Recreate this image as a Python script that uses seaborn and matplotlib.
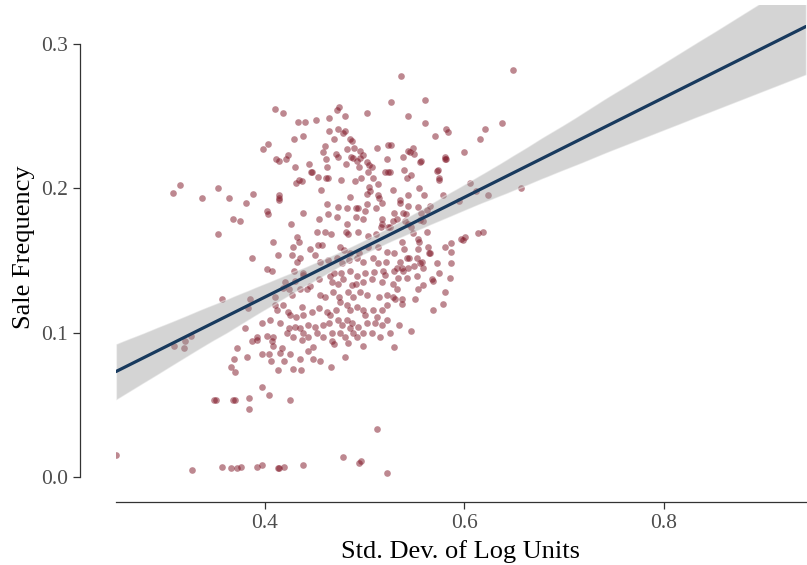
import numpy as np
import pandas as pd
import matplotlib
matplotlib.use("Agg")
import matplotlib.pyplot as plt
import seaborn as sns


# values (std. dev. of log units vs sale frequency)
sd_log_units = [
    # sparse left part
    .315, .308, .353, .337, .364, .381, .368, .375, .353, .357, .383, .380, .326, .309, .320, .319,
    .372, .369, .382, .366, .370, .349, .368, .384, .384, .251, .327, .357, .366, .372, .376, .351, .370,
    # lower middle
    .387, .392, .407, .408, .417, .415, .397, .404, .425, .406, .419, .435, .448, .443, .448,
    .455, .437, .467, .469, .483, .498, .480, .466, .428, .436, .413, .397, .404, .425,
    .512, .478, .496, .494, .392, .397, .413, .414, .419, .438, .522, .529,
    # right middle
    .535, .543, .553, .565, .562, .556, .529, .538, .541, .532, .540, .543, .555, .558, .546, .525,
    .528, .548, .562, .537, .553, .554, .595, .614, .619, .597, .599, .601, .581, .587, .587, .563,
    .564, .565, .539, .529, .553, .542, .552, .544, .557, .555, .549, .543, .558, .572, .587, .574,
    .535, .532, .529, .537, .538, .542, .552, .533, .567, .568, .586, .528, .558, .532, .553, .581,
    .528, .530, .537, .537, .550, .578, .568, .534, .546, .525,
    # upper right
    .649, .536, .560, .526, .543, .560, .638, .621, .582, .584, .570, .616, .526, .543, .548, .545,
    .549, .538, .600, .580, .580, .582, .555, .556, .539, .525, .572, .573, .546, .542, .574, .574,
    .606, .554, .528, .612, .657, .624, .543, .559, .578, .535,
    # upper middle
    .474, .472, .410, .418, .502, .480, .464, .433, .440, .451, .464, .473, .480, .478, .438, .429,
    .469, .485, .487, .403, .398, .460, .458, .482, .489, .495, .512, .523, .411, .414, .421, .423,
    .471, .473, .461, .486, .488, .492, .498, .495, .522, .444, .481, .502, .504, .430, .462, .494,
    .507, .446, .447, .503, .520, .523, .453, .461, .463, .476, .434, .437, .431, .490, .496, .508,
    .504, .513, .456, .414, .414, .388, .485, .502, .513, .514, .505,
    # dense centre
    .414, .402, .403, .387, .408, .413, .402, .407, .426, .438, .454, .462, .473, .482, .491, .493,
    .502, .500, .511, .517, .491, .498, .517, .517, .482, .472, .463, .452, .460, .466, .481, .483,
    .493, .503, .511, .516, .523, .432, .434, .428, .453, .457, .445, .475, .479, .485, .494, .503,
    .513, .522, .427, .435, .432, .450, .455, .463, .472, .477, .484, .492, .498, .508, .513, .521,
    .429, .438, .438, .420, .430, .445, .454, .465, .469, .476, .485, .492, .500, .509, .518, .467,
    .473, .478, .487, .491, .498, .507, .517, .520, .385, .410, .418, .424, .427, .435, .442, .455,
    .460, .468, .474, .483, .488, .495, .502, .514, .522, .410, .412, .418, .423, .425, .431, .437,
    .438, .447, .454, .462, .465, .471, .475, .482, .485, .492, .498, .500, .508, .512, .517, .522,
    .397, .405, .415, .424, .430, .435, .443, .450, .458, .464, .473, .477, .482, .487, .493, .502,
    .510, .517, .522, .392, .402, .408, .422, .428, .438, .443, .452, .458, .467, .475, .480, .485,
    .488, .492, .498, .507, .515,
]

sale_frequency = [
    # sparse left part
    .202, .197, .200, .193, .193, .190, .179, .177, .168, .123, .117, .103, .098, .091, .094, .089,
    .089, .082, .083, .076, .073, .053, .053, .055, .047, .015, .005, .007, .006, .006, .007, .053, .053,
    # lower middle
    .094, .095, .094, .091, .089, .086, .085, .085, .085, .080, .080, .082, .090, .087, .082,
    .080, .095, .094, .092, .093, .091, .083, .076, .075, .074, .074, .062, .057, .053,
    .033, .014, .011, .010, .007, .008, .006, .006, .007, .008, .003, .090,
    # right middle
    .190, .188, .187, .188, .185, .183, .183, .183, .182, .179, .177, .175, .178, .177, .173, .173,
    .177, .169, .170, .163, .165, .163, .191, .169, .170, .165, .164, .166, .159, .162, .156, .159,
    .155, .155, .158, .155, .158, .152, .152, .152, .149, .148, .146, .145, .145, .148, .148, .141,
    .149, .145, .143, .145, .143, .138, .139, .138, .137, .136, .138, .134, .133, .130, .130, .128,
    .125, .123, .123, .120, .123, .120, .116, .105, .101, .100,
    # upper right
    .282, .278, .261, .260, .250, .245, .245, .241, .241, .239, .236, .234, .230, .226, .228, .225,
    .224, .222, .225, .222, .220, .220, .218, .219, .213, .211, .212, .213, .209, .207, .207, .206,
    .204, .200, .199, .198, .200, .195, .195, .195, .195, .192,
    # upper middle
    .256, .254, .255, .252, .252, .250, .249, .246, .246, .247, .240, .241, .240, .238, .236, .234,
    .234, .234, .233, .231, .227, .229, .225, .227, .228, .226, .228, .230, .220, .219, .220, .223,
    .224, .222, .220, .222, .221, .219, .223, .221, .220, .217, .217, .218, .216, .215, .215, .215,
    .215, .211, .211, .211, .211, .211, .208, .207, .207, .206, .206, .205, .204, .205, .207, .207,
    .201, .203, .199, .195, .193, .196, .194, .196, .195, .193, .198,
    # dense centre
    .192, .184, .182, .152, .163, .154, .144, .143, .175, .183, .179, .189, .187, .186, .186, .186,
    .189, .184, .186, .190, .180, .179, .179, .175, .175, .180, .182, .170, .170, .168, .170, .168,
    .170, .167, .168, .173, .173, .166, .163, .159, .161, .161, .158, .159, .157, .155, .155, .159,
    .159, .156, .154, .152, .149, .154, .149, .150, .152, .148, .150, .152, .149, .152, .148, .149,
    .143, .141, .140, .135, .136, .132, .137, .139, .141, .141, .143, .139, .141, .142, .143, .135,
    .134, .137, .133, .134, .135, .137, .135, .140, .123, .125, .131, .130, .126, .130, .130, .126,
    .125, .128, .125, .128, .125, .128, .126, .125, .126, .119, .116, .119, .114, .112, .111, .118,
    .112, .114, .117, .114, .112, .116, .121, .119, .116, .118, .116, .112, .116, .111, .116, .119,
    .107, .109, .107, .103, .104, .103, .105, .104, .105, .107, .109, .105, .109, .107, .104, .107,
    .107, .105, .109, .097, .098, .097, .100, .097, .100, .097, .100, .097, .100, .100, .097, .103,
    .100, .097, .100, .100, .097,
]

x_ticks = [0.4, 0.6, 0.8]
y_ticks = [0.0, 0.1, 0.2, 0.3]

assert len(sd_log_units) == len(sale_frequency), (len(sd_log_units), len(sale_frequency))
df = pd.DataFrame({"sd": sd_log_units, "freq": sale_frequency})

sns.set_theme(style="ticks")
plt.rcParams["font.family"] = ["Liberation Serif", "DejaVu Serif"]

fig = plt.figure(figsize=(8.07, 5.65), dpi=100)
ax = fig.add_axes([0.1437, 0.1354, 0.855, 0.8558])
ax.set_xlim(0.2506, 0.9424)
ax.set_ylim(-0.008, 0.327)

sns.regplot(data=df, x="sd", y="freq", ax=ax, truncate=False, seed=3,
            scatter_kws=dict(s=23, color="#7d1222", alpha=0.5, linewidths=0),
            line_kws=dict(color="#183a5e", lw=2.3))

# ggplot-like grey band over the points
for coll in ax.collections[1:]:
    coll.set_facecolor("#999999")
    coll.set_alpha(0.42)

ax.set_xlim(0.2506, 0.9424)
ax.set_ylim(-0.008, 0.327)
ax.set_xticks(x_ticks)
ax.set_xticklabels([f"{t:.1f}" for t in x_ticks])
ax.set_yticks(y_ticks)
ax.set_yticklabels([f"{t:.1f}" for t in y_ticks])

ax.set_xlabel("Std. Dev. of Log Units", fontsize=19, color="black", labelpad=5)
ax.set_ylabel("Sale Frequency", fontsize=19, color="black", labelpad=4)
ax.tick_params(labelsize=15.5, labelcolor="#4d4d4d", length=5, width=0.9, color="#333333")

sns.despine(ax=ax)
ax.spines["left"].set_position(("outward", 26))
ax.spines["left"].set_bounds(0.0, 0.3)
ax.spines["bottom"].set_position(("outward", 9.7))
for s in ("left", "bottom"):
    ax.spines[s].set_color("#333333")
    ax.spines[s].set_linewidth(0.9)

fig.savefig("out.png", dpi=100)
